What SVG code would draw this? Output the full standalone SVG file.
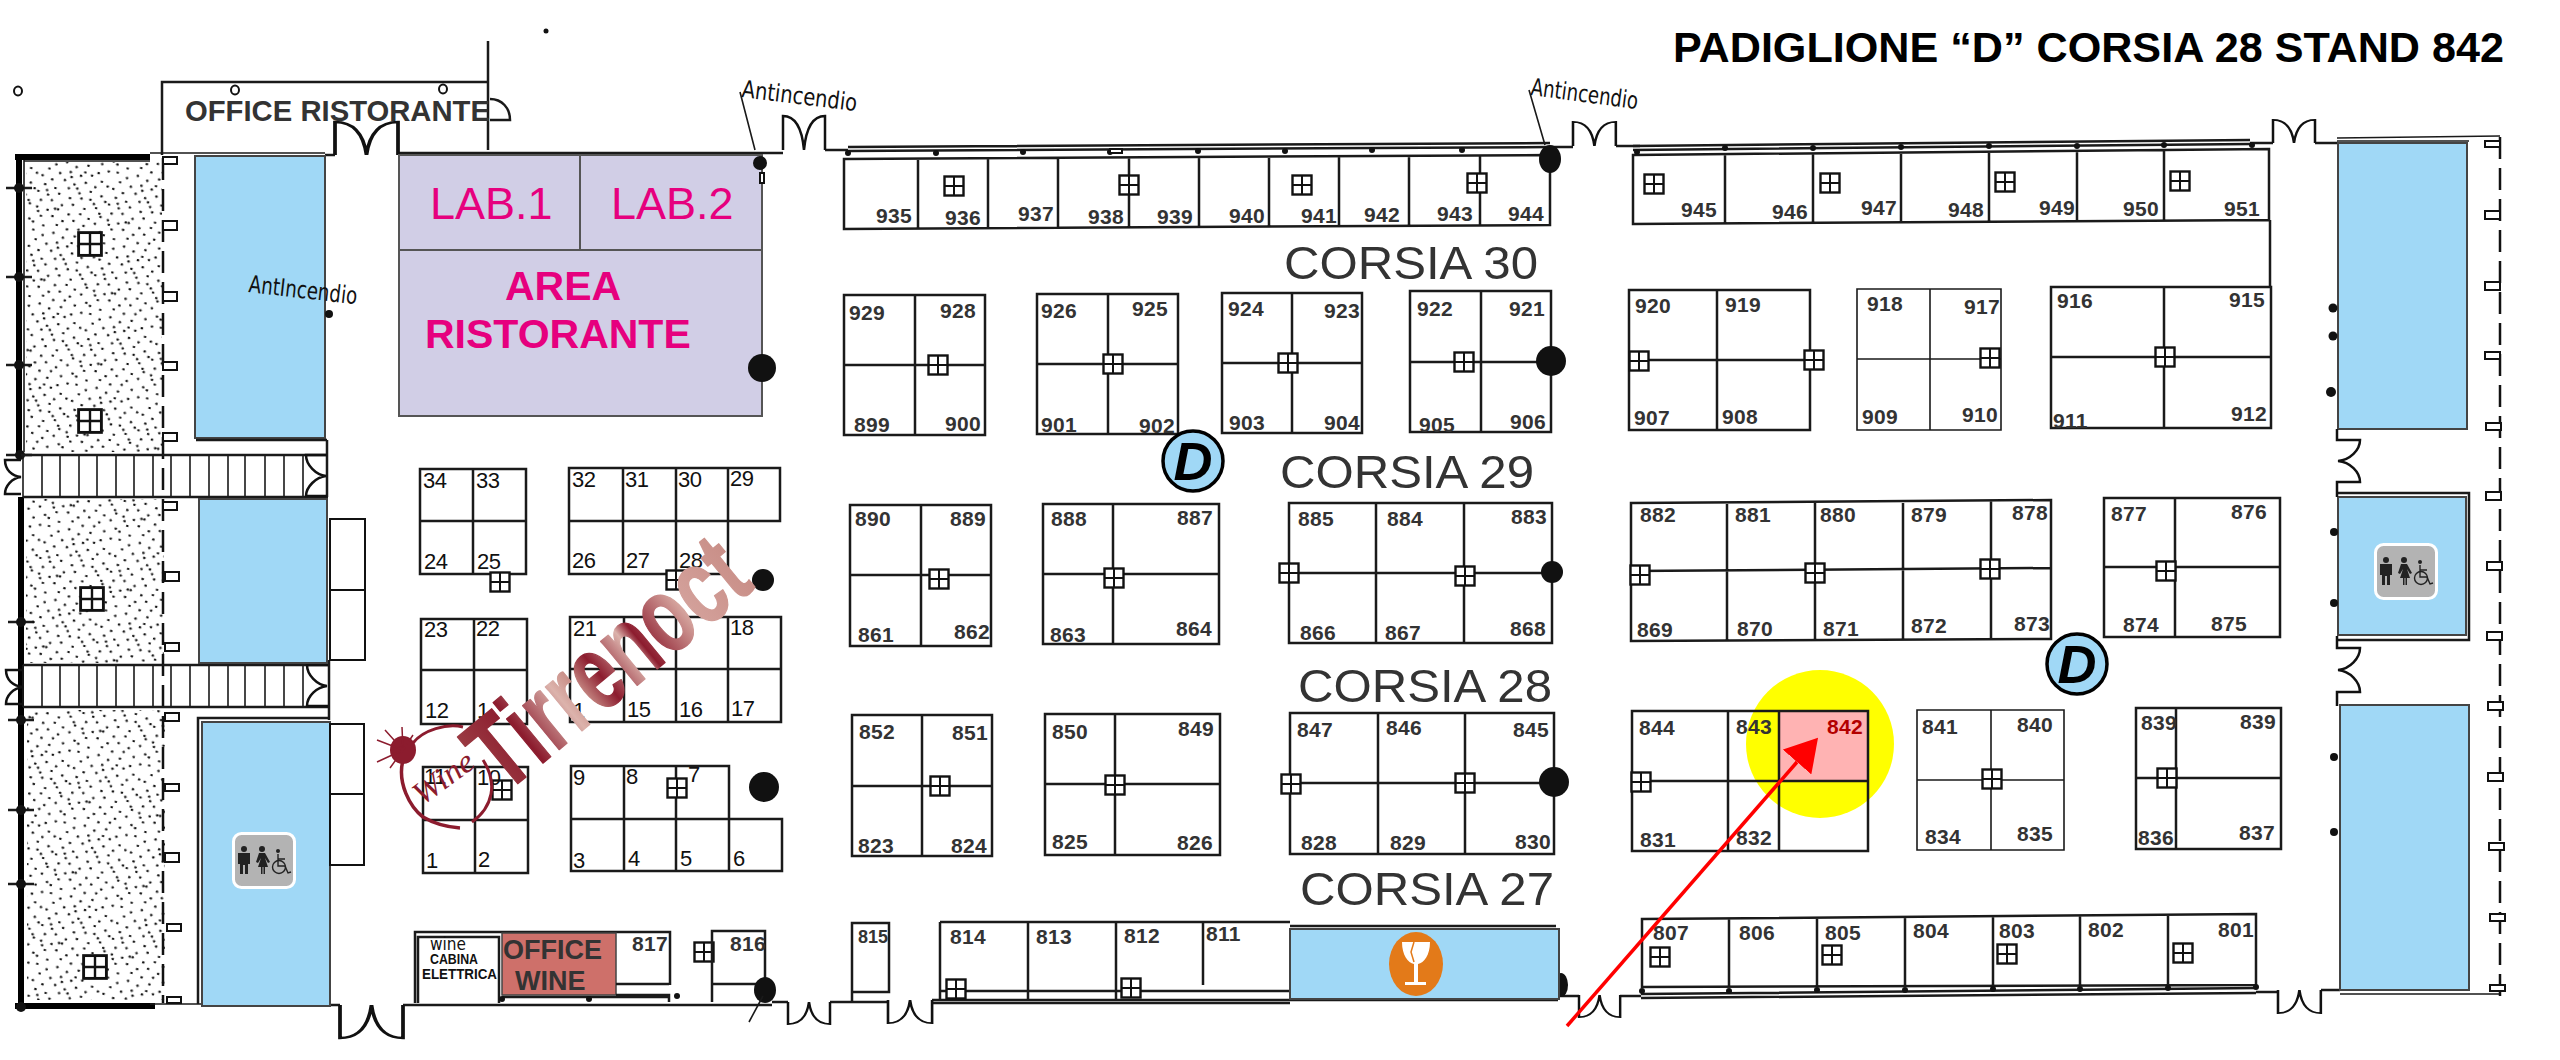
<svg xmlns="http://www.w3.org/2000/svg" width="2560" height="1060" viewBox="0 0 2560 1060">
<style>
text{font-family:"Liberation Sans",Arial,sans-serif}
.n{font-size:21px;font-weight:bold;fill:#333;letter-spacing:.3px}
.m{font-size:22px;fill:#111;letter-spacing:-.4px}
.c{font-size:47px;fill:#333}
.h{font-size:24px;fill:#111;font-family:"DejaVu Sans",sans-serif}
.s{fill:none;stroke:#1a1a1a;stroke-width:2.5}
.t{fill:none;stroke:#1a1a1a;stroke-width:1.6}
.w{fill:none;stroke:#000;stroke-width:6}
.b{fill:#a0d8f6;stroke:#444;stroke-width:2}
.k{fill:#111}
.st{fill:url(#stip);stroke:none}
.dash{fill:none;stroke:#111;stroke-width:2.5;stroke-dasharray:22 9}
.bx{fill:#fff;stroke:#111;stroke-width:2}
.dr{fill:none;stroke:#111;stroke-width:2.5}
.lab{fill:#e6007e}
.lg{fill:url(#tg);stroke:url(#tg);stroke-width:1.5;stroke-linejoin:round}
.sp{fill:none;stroke:#8c1c2e}
</style>
<defs>
<pattern id="stip" width="120" height="120" patternUnits="userSpaceOnUse" patternTransform="rotate(11) scale(.6)">
<path fill="none" stroke="#111" stroke-width="3.6" stroke-linecap="round" d="M7 5h1M24 11h1M41 4h1M58 9h1M77 3h1M96 12h1M112 6h1M14 20h1M33 24h1M50 19h1M68 22h1M86 18h1M104 25h1M5 33h1M22 37h1M43 34h1M60 38h1M78 32h1M95 36h1M115 31h1M12 47h1M30 50h1M52 46h1M71 51h1M89 45h1M108 49h1M3 60h1M20 63h1M38 58h1M57 62h1M76 59h1M98 64h1M116 57h1M10 74h1M28 71h1M46 76h1M64 72h1M84 75h1M103 70h1M6 86h1M24 88h1M41 84h1M60 89h1M79 85h1M94 90h1M113 83h1M15 100h1M34 97h1M52 102h1M70 98h1M88 103h1M106 96h1M4 112h1M22 115h1M44 110h1M62 114h1M81 111h1M99 116h1M117 108h1M17 56h1M66 44h1M36 84h1M91 58h1M53 27h1M110 78h1M9 93h1M74 15h1"/>
</pattern>
<linearGradient id="tg" gradientUnits="userSpaceOnUse" x1="0" y1="0" x2="327" y2="0"><stop offset="0" stop-color="#9a3a42"/><stop offset=".16" stop-color="#8c1c2e"/><stop offset=".32" stop-color="#dcb3ac"/><stop offset=".38" stop-color="#c98f88"/><stop offset=".46" stop-color="#8c1c2e"/><stop offset=".58" stop-color="#dcb3ac"/><stop offset=".62" stop-color="#8c1c2e"/><stop offset=".78" stop-color="#d4a29c"/><stop offset="1" stop-color="#c98f88"/></linearGradient>
<g id="win"><rect x="-9.5" y="-9.5" width="19" height="19" fill="#fff" stroke="#111" stroke-width="2.4"/><path d="M0-9.5V9.5M-9.5 0H9.5" stroke="#111" stroke-width="2"/></g>
<path id="door" class="dr" d="M0 0V-34C12-34 19-22 21 0 23-22 30-34 42-34V0"/>
<g id="wc"><rect x="1.5" y="1.5" width="61" height="54" rx="8" fill="#b3b3b3" stroke="#fff" stroke-width="3"/>
<g fill="#222"><circle cx="12" cy="17" r="3"/><path d="M6 21h12v11h-2v10h-3V33h-2v9H8V32H6z"/><circle cx="30" cy="17" r="3"/><path d="M27 21h6l5 9-2 1-3-5 3 9h-3v7h-1.500v-7h-1v7H29v-7h-3l3-9-3 5-2-1z"/></g>
<g fill="none" stroke="#222" stroke-width="1.400"><circle cx="47" cy="35" r="6.500"/><path d="M46 22v12h7l3 7 3-1M46 27h7"/></g><circle cx="46" cy="19" r="2" fill="#222"/></g>
<marker id="ah" viewBox="0 0 32 38" refX="0" refY="19" markerWidth="32" markerHeight="38" markerUnits="userSpaceOnUse" orient="auto"><path d="M0 0L32 19 0 38z" fill="#f00"/></marker>
</defs>

<g id="title"><text x="1673" y="62" font-size="42" font-weight="bold" fill="#000" textLength="831" lengthAdjust="spacingAndGlyphs">PADIGLIONE “D” CORSIA 28 STAND 842</text></g>
<circle cx="546" cy="31" r="2.5" class="k"/>

<g id="hall-walls">
<path class="w" d="M15 157H150M19 155V455M21 497V1007M15 1006H155"/>
<path class="t" d="M24 161H150M24 160V452M150 153H325M150 1004H330"/>
<path class="s" d="M325 155H335M398 153H783M825 150H848M1550 147H1573M1616 146H1640M2250 143H2273M2315 143H2338M330 1005H340M403 1005H415M772 1002H788M830 1002H888M932 1000H1558M1558 996H1579M1620 996H1641M2256 992H2278M2321 990H2340"/>
<path class="s" d="M848 147L1550 143M848 151L1550 147M1633 146L2250 140M1633 150L2250 144M415 1005H772M932 1003H1290M1641 994L2256 988M1641 998L2256 993"/>
<path class="t" d="M2337 138L2500 136M2337 141H2469M2340 994H2500"/>
<path class="dash" d="M163 158V1003M2500 137V1000"/>
<path class="s" d="M6 188H32M6 277H32M6 365H32M6 455H32M8 622H34M8 720H34M8 810H34M8 884H34"/>
<g class="k"><circle cx="19" cy="188" r="5"/><circle cx="19" cy="277" r="5"/><circle cx="19" cy="365" r="5"/><circle cx="20" cy="455" r="5"/><circle cx="21" cy="622" r="5"/><circle cx="21" cy="720" r="5"/><circle cx="21" cy="810" r="5"/><circle cx="21" cy="884" r="5"/><circle cx="21" cy="1007" r="5"/></g>
<g class="bx"><rect x="163" y="157" width="14" height="7"/><rect x="163" y="221" width="14" height="9"/><rect x="163" y="292" width="14" height="9"/><rect x="163" y="362" width="14" height="8"/><rect x="163" y="433" width="14" height="8"/><rect x="163" y="502" width="14" height="8"/><rect x="165" y="572" width="14" height="9"/><rect x="165" y="643" width="14" height="8"/><rect x="165" y="713" width="14" height="8"/><rect x="165" y="784" width="14" height="7"/><rect x="165" y="853" width="14" height="9"/><rect x="167" y="924" width="14" height="7"/><rect x="167" y="997" width="14" height="6"/></g>
<g class="bx"><rect x="2485" y="141" width="15" height="6"/><rect x="2485" y="211" width="15" height="8"/><rect x="2485" y="282" width="15" height="8"/><rect x="2485" y="352" width="15" height="7"/><rect x="2486" y="423" width="15" height="7"/><rect x="2486" y="492" width="15" height="8"/><rect x="2487" y="562" width="15" height="8"/><rect x="2487" y="632" width="15" height="8"/><rect x="2488" y="702" width="15" height="8"/><rect x="2488" y="773" width="15" height="8"/><rect x="2489" y="843" width="15" height="7"/><rect x="2490" y="914" width="15" height="7"/><rect x="2490" y="985" width="15" height="6"/></g>
</g>

<g id="stipple-areas"><rect class="st" x="26" y="162" width="136" height="290"/><rect class="st" x="26" y="499" width="138" height="164"/><rect class="st" x="27" y="710" width="138" height="290"/>
<use href="#win" transform="translate(90,244) scale(1.2)"/><use href="#win" transform="translate(90,421) scale(1.2)"/><use href="#win" transform="translate(92,599) scale(1.2)"/><use href="#win" transform="translate(95,967) scale(1.2)"/></g>

<g id="corridors">
<path class="s" d="M21 455H327M23 497H328M23 665H328M23 707H328M327 440V497M329 660V720"/>
<path class="t" d="M23 455V497M42 455V497M60 455V497M79 455V497M97 455V497M116 455V497M134 455V497M153 455V497M171 455V497M190 455V497M209 455V497M228 455V497M245 455V497M265 455V497M284 455V497M303 455V497M23 665V707M42 665V707M60 665V707M79 665V707M97 665V707M116 665V707M134 665V707M153 665V707M171 665V707M190 665V707M209 665V707M228 665V707M245 665V707M265 665V707M284 665V707M303 665V707"/>
<path class="dr" d="M21 460H5C5 470 12 476 21 477 12 478 5 486 5 494H21M23 670H6C6 680 13 686 23 687 13 688 6 696 6 704H23M327 455H306C306 465 316 475 326 476 316 477 306 487 306 496H327M328 665H307C307 675 317 685 327 686 317 687 307 696 307 706H328"/>
</g>

<g id="blue-areas">
<rect class="b" x="195" y="156" width="130" height="282"/><path class="s" d="M196 440H327"/>
<rect class="b" x="199" y="499" width="128" height="164"/>
<path class="s" d="M198 1004V718H330"/><rect class="b" x="202" y="722" width="128" height="284"/>
<rect class="b" x="2338" y="143" width="129" height="286"/>
<rect class="b" x="2338" y="497" width="128" height="138"/><path class="s" d="M2337 493H2469V640H2337"/>
<rect class="b" x="2340" y="705" width="129" height="285"/>
<rect class="bx" x="330" y="519" width="35" height="71"/><rect class="bx" x="330" y="590" width="35" height="70"/><rect class="bx" x="330" y="724" width="34" height="70"/><rect class="bx" x="330" y="794" width="34" height="71"/>
<use href="#wc" x="232" y="832"/><use href="#wc" x="2374" y="543"/>
<g class="k"><circle cx="329" cy="314" r="4"/><circle cx="2333" cy="308" r="4.500"/><circle cx="2333" cy="336" r="4.500"/><circle cx="2331" cy="392" r="5"/><circle cx="2334" cy="532" r="4"/><circle cx="2334" cy="603" r="4"/><circle cx="2334" cy="757" r="4"/><circle cx="2334" cy="832" r="4"/></g>
</g>

<g id="doors">
<use href="#door" transform="translate(335,155) scale(1.5,.97)"/>
<use href="#door" transform="translate(783,150)"/>
<use href="#door" transform="translate(1573,146) scale(1.02,.71)"/>
<use href="#door" transform="translate(2273,143) scale(1,.68)"/>
<use href="#door" transform="translate(340,1005) scale(1.5,-.97)"/>
<use href="#door" transform="translate(788,1002) scale(1,-.65)"/>
<use href="#door" transform="translate(888,1000) scale(1.05,-.68)"/>
<use href="#door" transform="translate(1579,995) scale(.98,-.65)"/>
<use href="#door" transform="translate(2278,990) scale(1.02,-.68)"/>
<path class="dr" stroke-width="3" d="M2337 429V440H2360C2360 450 2350 460 2338 461 2350 462 2360 472 2360 482H2337V497M2337 636V648H2360C2360 658 2350 669 2338 670 2350 671 2360 682 2360 692H2337V706"/>
</g>

<g id="office-ristorante">
<path class="s" d="M162 155V82H488M488 41V150"/><path class="s" d="M490 99C502 99 510 108 510 120H490"/>
<text x="185" y="121" font-size="30" font-weight="bold" fill="#333" textLength="305" lengthAdjust="spacingAndGlyphs">OFFICE RISTORANTE</text>
<g fill="none" stroke="#111" stroke-width="2"><ellipse cx="18" cy="91" rx="4" ry="4.500"/><ellipse cx="235" cy="90" rx="4" ry="4.500"/><ellipse cx="443" cy="89" rx="4" ry="4.500"/></g>
</g>

<g id="area-ristorante">
<rect x="399" y="155" width="363" height="261" fill="#d1cee6" stroke="#555" stroke-width="2"/>
<path d="M399 250H762M580 155V250" stroke="#555" stroke-width="2" fill="none"/>
<text class="lab" x="430" y="219" font-size="45">LAB.1</text>
<text class="lab" x="611" y="219" font-size="45">LAB.2</text>
<text class="lab" x="505" y="300" font-size="41" font-weight="bold">AREA</text>
<text class="lab" x="425" y="348" font-size="41" font-weight="bold">RISTORANTE</text>
<ellipse class="k" cx="762" cy="368" rx="14" ry="14"/><ellipse class="k" cx="760" cy="163" rx="7" ry="7"/><rect class="bx" x="760" y="173" width="4" height="10"/>
</g>

<g id="block-935-944"><path class="s" d="M844 159L1550 155V225L844 229ZM918 159V229M988 158V228M1058 158V228M1129 157V227M1199 157V227M1269 157V226M1339 156V226M1409 156V226M1480 155V225"/>
<g class="k"><circle cx="848" cy="153" r="3"/><circle cx="936" cy="153" r="3"/><circle cx="1023" cy="152" r="3"/><circle cx="1110" cy="152" r="3"/><circle cx="1198" cy="151" r="3"/><circle cx="1285" cy="151" r="3"/><circle cx="1372" cy="150" r="3"/><circle cx="1462" cy="150" r="3"/></g>
<rect class="bx" x="1110" y="149" width="12" height="4"/>
<use href="#win" x="954" y="186"/><use href="#win" x="1129" y="185"/><use href="#win" x="1302" y="185"/><use href="#win" x="1477" y="183"/>
<text class="n" x="876" y="223">935</text><text class="n" x="945" y="225">936</text><text class="n" x="1018" y="221">937</text><text class="n" x="1088" y="224">938</text><text class="n" x="1157" y="224">939</text><text class="n" x="1229" y="223">940</text><text class="n" x="1301" y="223">941</text><text class="n" x="1364" y="222">942</text><text class="n" x="1437" y="221">943</text><text class="n" x="1508" y="221">944</text>
<ellipse class="k" cx="1550" cy="159" rx="11" ry="14"/></g>

<g id="block-945-951"><path class="s" d="M1633 155L2269 149V220L1633 224ZM1725 154V223M1813 153V222M1901 153V222M1989 152V221M2077 151V221M2164 150V220M2270 220V287"/>
<g class="k"><circle cx="1637" cy="152" r="3"/><circle cx="1725" cy="148" r="3"/><circle cx="1813" cy="148" r="3"/><circle cx="1901" cy="147" r="3"/><circle cx="1989" cy="146" r="3"/><circle cx="2077" cy="146" r="3"/><circle cx="2164" cy="145" r="3"/><circle cx="2252" cy="145" r="3"/></g>
<use href="#win" x="1654" y="184"/><use href="#win" x="1830" y="183"/><use href="#win" x="2005" y="182"/><use href="#win" x="2180" y="181"/>
<text class="n" x="1681" y="217">945</text><text class="n" x="1772" y="219">946</text><text class="n" x="1861" y="215">947</text><text class="n" x="1948" y="217">948</text><text class="n" x="2039" y="215">949</text><text class="n" x="2123" y="216">950</text><text class="n" x="2224" y="216">951</text></g>

<g id="block-899-929"><path class="s" d="M844 295H985V435H844ZM844 365H985M915 295V435"/><use href="#win" x="938" y="365"/>
<text class="n" x="849" y="320">929</text><text class="n" x="940" y="318">928</text><text class="n" x="854" y="432">899</text><text class="n" x="945" y="431">900</text></g>
<g id="block-901-926"><path class="s" d="M1037 294H1178V434H1037ZM1037 364H1178M1108 294V434"/><use href="#win" x="1113" y="364"/>
<text class="n" x="1041" y="318">926</text><text class="n" x="1132" y="316">925</text><text class="n" x="1041" y="432">901</text><text class="n" x="1139" y="433">902</text></g>
<g id="block-903-924"><path class="s" d="M1222 293H1362V433H1222ZM1222 363H1362M1292 293V433"/><use href="#win" x="1288" y="363"/>
<text class="n" x="1228" y="316">924</text><text class="n" x="1324" y="318">923</text><text class="n" x="1229" y="430">903</text><text class="n" x="1324" y="430">904</text></g>
<g id="block-905-922"><path class="s" d="M1410 291H1551V432H1410ZM1410 362H1551M1481 291V432"/><use href="#win" x="1464" y="362"/><ellipse class="k" cx="1551" cy="361" rx="15" ry="15"/>
<text class="n" x="1417" y="316">922</text><text class="n" x="1509" y="316">921</text><text class="n" x="1419" y="432">905</text><text class="n" x="1510" y="429">906</text></g>
<g id="block-907-920"><path class="s" d="M1629 290H1810V430H1629ZM1629 360H1810M1717 290V430"/><use href="#win" x="1639" y="361"/><use href="#win" x="1814" y="360"/>
<text class="n" x="1635" y="313">920</text><text class="n" x="1725" y="312">919</text><text class="n" x="1634" y="425">907</text><text class="n" x="1722" y="424">908</text></g>
<g id="block-909-918"><path class="t" d="M1857 289H2001V430H1857ZM1857 359H2001M1930 289V430"/><use href="#win" x="1990" y="358"/>
<text class="n" x="1867" y="311">918</text><text class="n" x="1964" y="314">917</text><text class="n" x="1862" y="424">909</text><text class="n" x="1962" y="422">910</text></g>
<g id="block-911-916"><path class="s" d="M2051 287H2271V428H2051ZM2051 357H2271M2164 287V428"/><use href="#win" x="2165" y="357"/>
<text class="n" x="2057" y="308">916</text><text class="n" x="2229" y="307">915</text><text class="n" x="2053" y="428">911</text><text class="n" x="2231" y="421">912</text></g>

<g id="block-861-890"><path class="s" d="M850 505H991V646H850ZM850 575H991M921 505V646"/><use href="#win" x="939" y="579"/>
<text class="n" x="855" y="526">890</text><text class="n" x="950" y="526">889</text><text class="n" x="858" y="642">861</text><text class="n" x="954" y="639">862</text></g>
<g id="block-863-888"><path class="s" d="M1043 504H1219V644H1043ZM1043 574H1219M1113 504V644"/><use href="#win" x="1114" y="578"/>
<text class="n" x="1051" y="526">888</text><text class="n" x="1177" y="525">887</text><text class="n" x="1050" y="642">863</text><text class="n" x="1176" y="636">864</text></g>
<g id="block-866-885"><path class="s" d="M1289 503H1552V643H1289ZM1289 573H1552M1376 503V643M1464 503V643"/><use href="#win" x="1289" y="573"/><use href="#win" x="1465" y="576"/><ellipse class="k" cx="1552" cy="572" rx="11" ry="11"/>
<text class="n" x="1298" y="526">885</text><text class="n" x="1387" y="526">884</text><text class="n" x="1511" y="524">883</text><text class="n" x="1300" y="640">866</text><text class="n" x="1385" y="640">867</text><text class="n" x="1510" y="636">868</text></g>
<g id="block-869-882"><path class="s" d="M1631 503L2051 500V639L1631 641ZM1631 571L2051 568M1727 502V641M1815 502V640M1903 501V640M1991 500V639"/><use href="#win" x="1640" y="575"/><use href="#win" x="1815" y="573"/><use href="#win" x="1990" y="569"/>
<text class="n" x="1640" y="522">882</text><text class="n" x="1735" y="522">881</text><text class="n" x="1820" y="522">880</text><text class="n" x="1911" y="522">879</text><text class="n" x="2012" y="520">878</text><text class="n" x="1637" y="637">869</text><text class="n" x="1737" y="636">870</text><text class="n" x="1823" y="636">871</text><text class="n" x="1911" y="633">872</text><text class="n" x="2014" y="631">873</text></g>
<g id="block-874-877"><path class="s" d="M2104 498H2280V637H2104ZM2104 567H2280M2175 498V637"/><use href="#win" x="2166" y="571"/>
<text class="n" x="2111" y="521">877</text><text class="n" x="2231" y="519">876</text><text class="n" x="2123" y="632">874</text><text class="n" x="2211" y="631">875</text></g>

<g id="block-823-852"><path class="s" d="M852 715H992V856H852ZM852 786H992M922 715V856"/><use href="#win" x="940" y="786"/>
<text class="n" x="859" y="739">852</text><text class="n" x="952" y="740">851</text><text class="n" x="858" y="853">823</text><text class="n" x="951" y="853">824</text></g>
<g id="block-825-850"><path class="s" d="M1045 714H1220V855H1045ZM1045 784H1220M1115 714V855"/><use href="#win" x="1115" y="785"/>
<text class="n" x="1052" y="739">850</text><text class="n" x="1178" y="736">849</text><text class="n" x="1052" y="849">825</text><text class="n" x="1177" y="850">826</text></g>
<g id="block-828-847"><path class="s" d="M1290 713H1554V854H1290ZM1290 783H1554M1378 713V854M1465 713V854"/><use href="#win" x="1291" y="784"/><use href="#win" x="1465" y="783"/><ellipse class="k" cx="1554" cy="782" rx="15" ry="15"/>
<text class="n" x="1297" y="737">847</text><text class="n" x="1386" y="735">846</text><text class="n" x="1513" y="737">845</text><text class="n" x="1301" y="850">828</text><text class="n" x="1390" y="850">829</text><text class="n" x="1515" y="849">830</text></g>

<g id="stand-842">
<ellipse cx="1820" cy="744" rx="74" ry="74" fill="#ff0"/>
<rect x="1779" y="711" width="89" height="70" fill="#ffb3b3"/>
<path class="s" d="M1632 711H1868V851H1632ZM1632 781H1868M1728 711V851M1779 711V851"/><use href="#win" x="1641" y="782"/>
<text class="n" x="1639" y="735">844</text><text class="n" x="1736" y="734">843</text><text class="n" x="1827" y="734" style="fill:#b30000">842</text><text class="n" x="1640" y="847">831</text><text class="n" x="1736" y="845">832</text>
</g>
<g id="block-834-841"><path class="t" d="M1917 710H2064V850H1917ZM1917 780H2064M1991 710V850"/><use href="#win" x="1992" y="779"/>
<text class="n" x="1922" y="734">841</text><text class="n" x="2017" y="732">840</text><text class="n" x="1925" y="844">834</text><text class="n" x="2017" y="841">835</text></g>
<g id="block-836-839"><path class="s" d="M2136 708H2281V849H2136ZM2136 778H2281M2176 708V849"/><use href="#win" x="2167" y="778"/>
<text class="n" x="2141" y="730">839</text><text class="n" x="2240" y="729">839</text><text class="n" x="2138" y="845">836</text><text class="n" x="2239" y="840">837</text></g>

<g id="block-815"><path class="s" d="M852 923H889V992H852ZM852 992V1002"/><text class="n" x="858" y="943" style="font-size:18px;letter-spacing:0">815</text></g>
<g id="block-811-814"><path class="s" d="M940 922H1290M940 922V1000M940 991H1290M1028 922V1000M1116 922V1000M1203 922V985"/><use href="#win" x="956" y="989"/><use href="#win" x="1131" y="988"/>
<text class="n" x="950" y="944">814</text><text class="n" x="1036" y="944">813</text><text class="n" x="1124" y="943">812</text><text class="n" x="1206" y="941">811</text></g>
<g id="bar"><ellipse class="k" cx="1561" cy="985" rx="7" ry="12"/><path class="s" d="M1290 926H1556"/>
<rect class="b" x="1290" y="929" width="269" height="70"/>
<ellipse cx="1416" cy="964" rx="27" ry="32" fill="#e37a19"/>
<path fill="#fff" d="M1402 942H1430C1430 955 1424 963 1418 964V982H1426V985H1405V982H1414V964C1408 963 1402 955 1402 942Z"/><path d="M1414 942L1411 952 1414 962" fill="none" stroke="#e37a19" stroke-width="1.500"/></g>
<g id="block-801-807"><path class="s" d="M1642 919L2256 914V985L1642 987ZM1729 918V987M1817 918V987M1905 917V986M1993 916V986M2080 915V985M2168 915V985"/>
<g class="k"><circle cx="1642" cy="991" r="3"/><circle cx="1729" cy="991" r="3"/><circle cx="1817" cy="990" r="3"/><circle cx="1905" cy="990" r="3"/><circle cx="1993" cy="989" r="3"/><circle cx="2080" cy="989" r="3"/><circle cx="2168" cy="988" r="3"/><circle cx="2256" cy="987" r="3"/></g>
<use href="#win" x="1660" y="957"/><use href="#win" x="1832" y="955"/><use href="#win" x="2007" y="954"/><use href="#win" x="2183" y="953"/>
<text class="n" x="1653" y="940">807</text><text class="n" x="1739" y="940">806</text><text class="n" x="1825" y="940">805</text><text class="n" x="1913" y="938">804</text><text class="n" x="1999" y="938">803</text><text class="n" x="2088" y="937">802</text><text class="n" x="2218" y="937">801</text></g>

<g id="corsie">
<text class="c" x="1284" y="279" textLength="254" lengthAdjust="spacingAndGlyphs">CORSIA 30</text>
<text class="c" x="1280" y="488" textLength="254" lengthAdjust="spacingAndGlyphs">CORSIA 29</text>
<text class="c" x="1298" y="702" textLength="254" lengthAdjust="spacingAndGlyphs">CORSIA 28</text>
<text class="c" x="1300" y="905" textLength="254" lengthAdjust="spacingAndGlyphs">CORSIA 27</text>
</g>

<g id="sign-d1"><circle cx="1193" cy="461" r="30" fill="#a0d8f6" stroke="#000" stroke-width="3.500"/><text x="1193" y="480" font-size="54" font-weight="bold" font-style="italic" fill="#000" text-anchor="middle">D</text></g>
<g id="sign-d2"><circle cx="2077" cy="664" r="30" fill="#a0d8f6" stroke="#000" stroke-width="3.500"/><text x="2077" y="683" font-size="54" font-weight="bold" font-style="italic" fill="#000" text-anchor="middle">D</text></g>

<g id="block-24-34"><path class="s" d="M420 469H526V574H420ZM420 521H526M473 469V574"/><use href="#win" x="500" y="582"/>
<text class="m" x="423" y="488">34</text><text class="m" x="476" y="488">33</text><text class="m" x="424" y="569">24</text><text class="m" x="477" y="569">25</text></g>
<g id="block-26-32"><path class="s" d="M569 468H780V521H569ZM569 468V574H728V468M623 468V574M676 468V574"/><use href="#win" x="676" y="580"/><ellipse class="k" cx="763" cy="580" rx="11" ry="11"/>
<text class="m" x="572" y="487">32</text><text class="m" x="625" y="487">31</text><text class="m" x="678" y="487">30</text><text class="m" x="730" y="486">29</text><text class="m" x="572" y="568">26</text><text class="m" x="626" y="568">27</text><text class="m" x="679" y="568">28</text></g>
<g id="block-12-23"><path class="s" d="M421 619H527V724H421ZM421 670H527M474 619V724"/>
<text class="m" x="424" y="637">23</text><text class="m" x="476" y="636">22</text><text class="m" x="425" y="718">12</text><text class="m" x="477" y="718">1</text></g>
<g id="block-14-21"><path class="s" d="M570 617H781V722H570ZM570 669H781M624 617V722M676 617V722M728 617V722"/>
<text class="m" x="573" y="636">21</text><text class="m" x="730" y="635">18</text><text class="m" x="573" y="718">1</text><text class="m" x="627" y="717">15</text><text class="m" x="679" y="717">16</text><text class="m" x="731" y="716">17</text></g>
<g id="block-1-11"><path class="s" d="M423 767H528V873H423ZM423 820H528M475 767V873"/><use href="#win" x="502" y="790"/>
<text class="m" x="424" y="784">11</text><text class="m" x="477" y="785">10</text><text class="m" x="426" y="868">1</text><text class="m" x="478" y="867">2</text></g>
<g id="block-3-9"><path class="s" d="M571 766H729V819H782V871H571ZM571 819H729M624 766V871M676 766V871M729 766V871"/><use href="#win" x="677" y="788"/><ellipse class="k" cx="764" cy="787" rx="15" ry="15"/>
<text class="m" x="573" y="785">9</text><text class="m" x="626" y="784">8</text><text class="m" x="688" y="782">7</text><text class="m" x="573" y="868">3</text><text class="m" x="628" y="866">4</text><text class="m" x="680" y="866">5</text><text class="m" x="733" y="866">6</text></g>

<g id="block-816-817">
<path class="s" d="M415 1003V932H670V985M418 1003V937H499V1003"/>
<rect x="502" y="933" width="114" height="62" fill="#ce706a" stroke="#444" stroke-width="1.500"/>
<path class="s" d="M616 984H669M616 995H669V1002M502 997H669"/>
<text x="430" y="950" font-size="18" fill="#111" style="font-family:'DejaVu Sans',sans-serif" textLength="36" lengthAdjust="spacingAndGlyphs">wine</text>
<text x="430" y="964" font-size="14" font-weight="bold" fill="#111" textLength="48" lengthAdjust="spacingAndGlyphs">CABINA</text>
<text x="422" y="979" font-size="14" font-weight="bold" fill="#111" textLength="75" lengthAdjust="spacingAndGlyphs">ELETTRICA</text>
<text x="503" y="959" font-size="27" font-weight="bold" fill="#333">OFFICE</text>
<text x="515" y="990" font-size="27" font-weight="bold" fill="#333">WINE</text>
<text class="n" x="632" y="951">817</text>
<use href="#win" x="704" y="952"/>
<path class="s" d="M712 1002V931H765V990M712 984H762"/>
<text class="n" x="730" y="951">816</text>
<ellipse class="k" cx="765" cy="990" rx="11" ry="13"/>
<g class="k"><circle cx="502" cy="999" r="3"/><circle cx="589" cy="999" r="3"/><circle cx="677" cy="996" r="3"/></g>
</g>

<g id="logo-tirrenoct">
<path class="sp" stroke-width="3" d="M413 743C423 730 447 723 463 727M483 760C498 783 493 807 472 822"/>
<path class="sp" stroke-width="3.500" d="M403 760C397 783 410 807 423 817 433 823 447 827 460 828"/>
<ellipse cx="403" cy="750" rx="13" ry="14" fill="#8c1c2e"/>
<path class="sp" stroke-width="1.500" d="M377 740L403 750M402 727L403 750M377 762L403 750M385 730L403 750M413 735L403 750M390 768L403 750"/>
<text x="422" y="806" transform="rotate(-36 422 806)" font-size="32" font-style="italic" fill="#8c1c2e" style="font-family:'Liberation Serif',serif" textLength="68" lengthAdjust="spacingAndGlyphs">Wine</text>
<g transform="translate(504,795) rotate(-39.500)"><text class="lg" x="0" y="0" font-size="108" font-weight="bold" textLength="327" lengthAdjust="spacingAndGlyphs">Tirrenoct</text></g>
</g>

<g id="labels-antincendio">
<text class="h" transform="translate(741,97) rotate(7)" textLength="116" lengthAdjust="spacingAndGlyphs">Antincendio</text>
<text class="h" transform="translate(248,292) rotate(6.500)" textLength="109" lengthAdjust="spacingAndGlyphs">AntIncendio</text>
<text class="h" transform="translate(1530,95) rotate(7.500)" textLength="108" lengthAdjust="spacingAndGlyphs">Antincendio</text>
</g>

<g id="connectors">
<path class="t" d="M740 92L755 150M1529 90L1545 145M763 996L749 1022"/>
<path d="M1567 1026L1797 762" stroke="#f00" stroke-width="3.500" fill="none" marker-end="url(#ah)"/>
</g>
</svg>
